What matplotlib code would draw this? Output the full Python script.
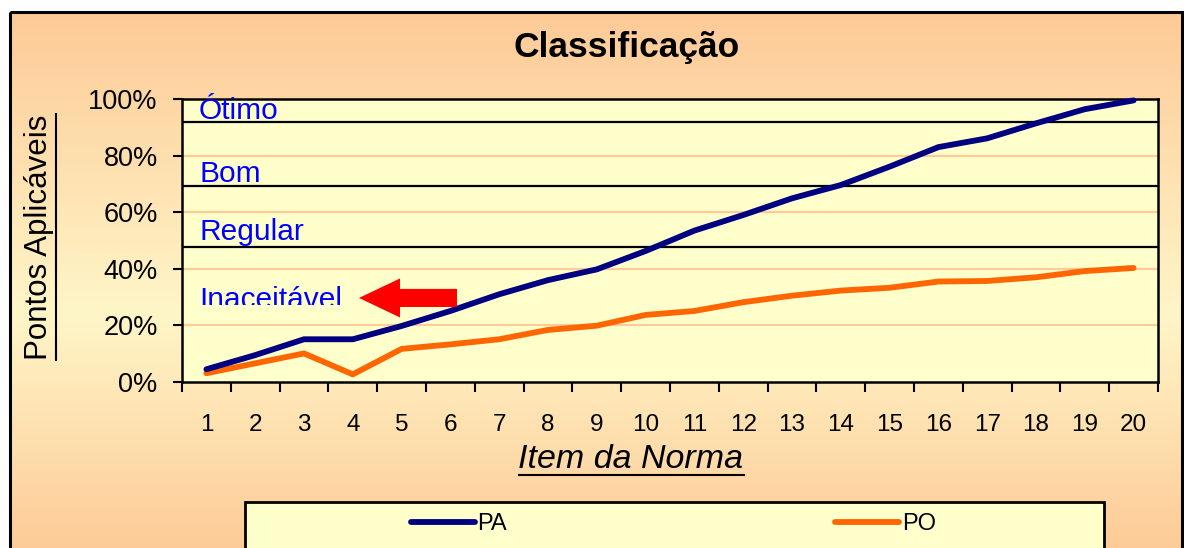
import numpy as np
import matplotlib
matplotlib.use("Agg")
import matplotlib.pyplot as plt
from matplotlib.lines import Line2D
from matplotlib.patches import Rectangle, FancyArrow
from matplotlib.transforms import Bbox, TransformedBbox
from matplotlib.colors import LinearSegmentedColormap

plt.rcParams["font.family"] = ["Liberation Sans", "DejaVu Sans"]

# data
items = [str(i) for i in range(1, 21)]
pa = [0.045, 0.095, 0.151, 0.151, 0.198, 0.251, 0.31, 0.36, 0.398, 0.463,
      0.535, 0.59, 0.649, 0.696, 0.761, 0.83, 0.861, 0.914, 0.964, 0.995]
po = [0.031, 0.066, 0.101, 0.027, 0.117, 0.133, 0.151, 0.184, 0.199, 0.237,
      0.251, 0.282, 0.305, 0.323, 0.333, 0.355, 0.357, 0.37, 0.392, 0.403]
thresholds = [0.919, 0.694, 0.476]
classes = ["Ótimo", "Bom", "Regular", "Inaceitável"]
class_label_y = [0.93, 0.707, 0.50, 0.262]
y_ticks = [0, 0.2, 0.4, 0.6, 0.8, 1.0]

W, H = 1184, 548
fig = plt.figure(figsize=(W / 100, H / 100), dpi=100)
fig.patch.set_facecolor("white")

# background panel with vertical gradient
bg = fig.add_axes([0, 0, 1, 1], zorder=-10)
bg.axis("off")
cmap = LinearSegmentedColormap.from_list(
    "bg", [(0, "#FDCA97"), (0.55, "#FFF6C8"), (1, "#FDC995")])
grad = np.linspace(0, 1, 256).reshape(-1, 1)
bg.imshow(grad, cmap=cmap, aspect="auto", extent=(10, 1182, 560, 12),
          interpolation="bilinear")
bg.add_patch(Rectangle((10, 12), 1172, 560, fill=False, ec="black", lw=2.2))
bg.set_xlim(0, W)
bg.set_ylim(H, 0)

# legend box (decoration)
bg.add_patch(Rectangle((245, 502), 859, 80, fc="#FFFFCC", ec="black", lw=2))

ax = fig.add_axes([182 / W, 1 - 382 / H, 976 / W, 283 / H])
ax.set_facecolor("#FFFFCC")
x = np.arange(1, len(items) + 1)

for yv in [0.2, 0.4, 0.6, 0.8]:
    ax.axhline(yv, color="#FFCC99", lw=1.6, zorder=1)
for t in thresholds:
    ax.axhline(t, color="black", lw=1.6, zorder=2)

ax.plot(x, pa, color="#000080", lw=4.2, label="PA", zorder=4,
        solid_capstyle="round", solid_joinstyle="round", clip_on=False)
ax.plot(x, po, color="#FF6600", lw=4.2, label="PO", zorder=3,
        solid_capstyle="round", solid_joinstyle="round", clip_on=False)

ax.set_xlim(0.5, len(items) + 0.5)
ax.set_ylim(0, 1)

ax.set_yticks(y_ticks)
ax.set_yticklabels([f"{int(round(v * 100))}%" for v in y_ticks])
ax.tick_params(axis="y", length=6.5, width=1.5, pad=11, labelsize=19.5)

ax.set_xticks(np.arange(0.5, len(items) + 1, 1.0))
ax.set_xticklabels([])
ax.set_xticks(x, minor=True)
ax.set_xticklabels(items, minor=True)
ax.tick_params(axis="x", which="major", length=7, width=1.5)
ax.tick_params(axis="x", which="minor", length=0, pad=23, labelsize=17.5)

for s in ax.spines.values():
    s.set_linewidth(1.8)

# class labels
for lab, yv in zip(classes, class_label_y):
    txt = ax.text(0.85, yv, lab, color="#0000FF", fontsize=21.5,
                  ha="left", va="baseline", zorder=5)
    if lab == "Inaceitável":
        clip = TransformedBbox(Bbox([[0.5, 0.272], [8, 0.4]]), ax.transData)
        txt.set_clip_box(clip)
        txt.set_clip_on(True)

# red arrow pointing left
ax.add_patch(FancyArrow(6.135, 0.297, -2.008, 0, width=0.064, head_width=0.138,
                        head_length=0.84, length_includes_head=True,
                        color="#FF0000", lw=0, zorder=6))

fig.text(627 / W, 1 - 48 / H, "Classificação", fontsize=25.5, fontweight="bold",
         ha="center", va="center")
ylab = fig.text(39 / W, 1 - 237 / H, "Pontos Aplicáveis", fontsize=22.5,
                rotation=90, ha="center", va="center")
xlab = fig.text(631 / W, 1 - 460 / H, "Item da Norma", fontsize=24.5,
                style="italic", ha="center", va="center")

handles, labels = ax.get_legend_handles_labels()
fig.legend(handles, labels, loc="center left",
           bbox_to_anchor=(411 / W, 1 - 524 / H), ncol=2, frameon=False,
           fontsize=17, handlelength=2.7, handletextpad=0.12,
           columnspacing=13.9, borderpad=0, borderaxespad=0)

# underline the axis titles
fig.canvas.draw()
r = fig.canvas.get_renderer()
bb = ylab.get_window_extent(r)
fig.add_artist(Line2D([bb.x1 + 2, bb.x1 + 2], [bb.y0, bb.y1], color="black",
                      lw=1.5, transform=None))
bb = xlab.get_window_extent(r)
fig.add_artist(Line2D([bb.x0, bb.x1], [bb.y0 + 1, bb.y0 + 1], color="black",
                      lw=1.5, transform=None))

fig.savefig("out.png", dpi=100)
